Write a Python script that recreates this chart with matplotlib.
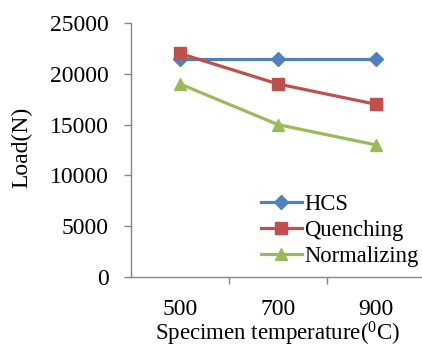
import numpy as np
import matplotlib.pyplot as plt

plt.rcParams['font.family'] = ['Liberation Serif', 'DejaVu Serif']
plt.rcParams['mathtext.fontset'] = 'custom'
plt.rcParams['mathtext.rm'] = 'Liberation Serif'

temps = ['500', '700', '900']
hcs = [21500, 21500, 21500]
quenching = [22000, 19000, 17000]
normalizing = [19000, 15000, 13000]

fig = plt.figure(figsize=(4.22, 3.5), dpi=100)
ax = fig.add_axes([131 / 422, 73 / 350, 294 / 422, 254 / 350])

x = np.arange(len(temps))
ax.plot(x, hcs, color='#4F81BD', marker='D', markersize=7, lw=2.3, label='HCS')
ax.plot(x, quenching, color='#C0504D', marker='s', markersize=9, lw=2.3, label='Quenching')
ax.plot(x, normalizing, color='#9BBB59', marker='^', markersize=9, lw=2.3, label='Normalizing')

ax.set_xlim(-0.5, 2.5)
ax.set_ylim(0, 25000)
ax.set_yticks(range(0, 25001, 5000))
ax.set_xticks(x)
ax.set_xticklabels(temps)
ax.set_xticks([0.5, 1.5], minor=True)
ax.tick_params(axis='x', which='major', length=0, labelsize=17, pad=16)
ax.tick_params(axis='x', which='minor', length=5, color='#868686', width=1)
ax.tick_params(axis='y', length=5, color='#868686', width=1, labelsize=17, pad=11)

for side in ['top', 'right']:
    ax.spines[side].set_visible(False)
for side in ['left', 'bottom']:
    ax.spines[side].set_color('#868686')
    ax.spines[side].set_linewidth(1)

ax.set_ylabel('Load(N)', fontsize=17)
ax.yaxis.set_label_coords(-0.335, 0.51)
ax.set_xlabel(r'Specimen temperature($\mathregular{^0}$C)', fontsize=16.5, labelpad=0)

ax.legend(loc='upper left', bbox_to_anchor=(261 / 422, 1 - 194 / 350),
          bbox_transform=fig.transFigure, frameon=False, fontsize=16.3,
          handlelength=1.8, handletextpad=0.1, labelspacing=0.22,
          borderpad=0, borderaxespad=0)

fig.savefig('out.png', dpi=100)
